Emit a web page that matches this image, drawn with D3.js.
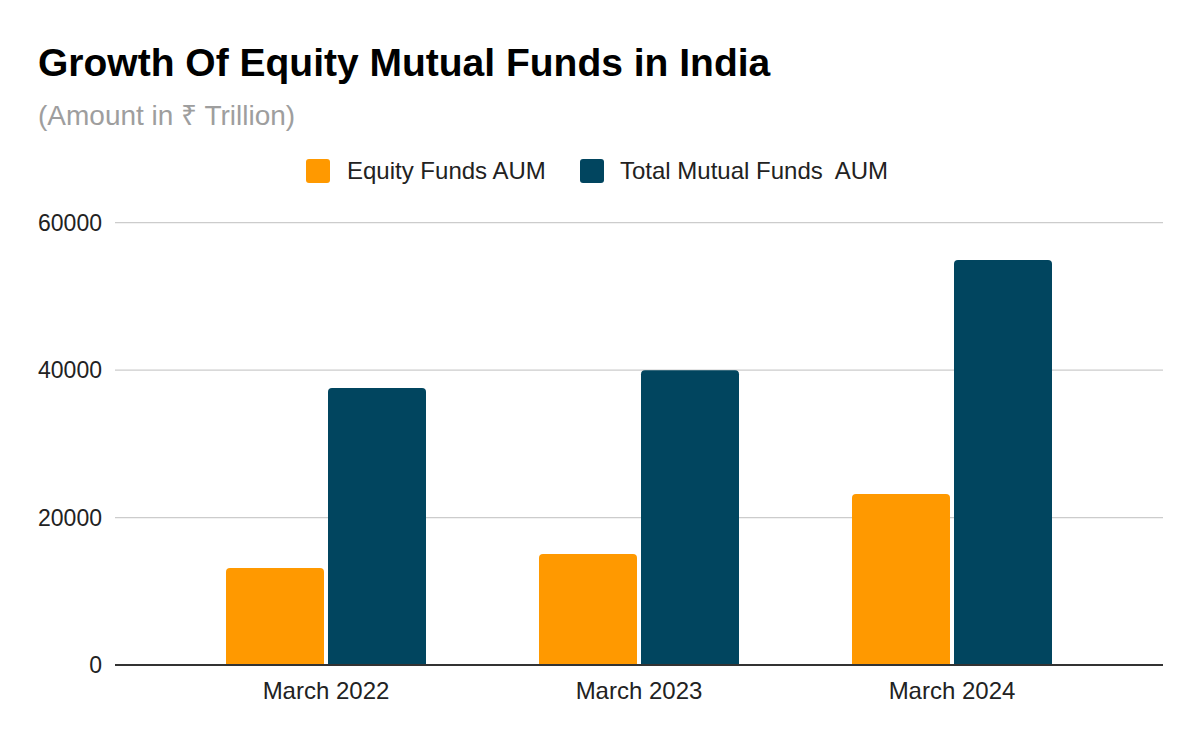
<!DOCTYPE html>
<html>
<head>
<meta charset="utf-8">
<script src="https://cdn.jsdelivr.net/npm/d3@7"></script>
<style>
  html, body { margin: 0; padding: 0; background: #fff; }
  svg text { font-family: "Liberation Sans", Arial, sans-serif; }
</style>
</head>
<body>
<svg id="chart" width="1200" height="742"></svg>
<script>
const categories = ["March 2022", "March 2023", "March 2024"];
const seriesNames = ["Equity Funds AUM", "Total Mutual Funds  AUM"];
const equityAUM = [13160, 15060, 23200];
const totalAUM = [37570, 40000, 54940];
const yTicks = [0, 20000, 40000, 60000];
const colors = ["#ff9900", "#01455f"];

const title = "Growth Of Equity Mutual Funds in India";
const subtitle = "(Amount in \u20B9 Trillion)";

const svg = d3.select("#chart");
const W = 1200, H = 742;
svg.append("rect").attr("width", W).attr("height", H).attr("fill", "#fff");

const plotLeft = 115, plotRight = 1163;
const y = d3.scaleLinear().domain([0, 60000]).range([665, 222.7]);

const x0 = d3.scaleBand().domain(categories).range([169.5, 1108.5])
  .paddingInner(0.361).paddingOuter(0.1805);
const x1 = d3.scaleBand().domain(seriesNames).range([0, x0.bandwidth()])
  .paddingInner(4 / 102).paddingOuter(0);

// title
svg.append("text").attr("x", 38).attr("y", 76)
  .attr("font-size", 39).attr("font-weight", "bold").attr("fill", "#000")
  .text(title);
svg.append("text").attr("x", 38).attr("y", 125)
  .attr("font-size", 28).attr("fill", "#9e9e9e")
  .text(subtitle);

// gridlines
svg.append("g").selectAll("line").data(yTicks.filter(d => d !== 0)).join("line")
  .attr("x1", plotLeft).attr("x2", plotRight)
  .attr("y1", d => y(d)).attr("y2", d => y(d))
  .attr("stroke", "#cccccc").attr("stroke-width", 1.3);

// y labels
svg.append("g").selectAll("text").data(yTicks).join("text")
  .attr("x", 102).attr("y", d => y(d)).attr("dy", "0.35em")
  .attr("text-anchor", "end").attr("font-size", 23).attr("fill", "#222")
  .text(d => d);

// bars
const rows = categories.map((c, i) => ({ cat: c, vals: [equityAUM[i], totalAUM[i]] }));
function topRounded(x, yTop, w, h, r) {
  r = Math.min(r, h, w / 2);
  return `M${x},${yTop + h}V${yTop + r}Q${x},${yTop} ${x + r},${yTop}H${x + w - r}Q${x + w},${yTop} ${x + w},${yTop + r}V${yTop + h}Z`;
}
const g = svg.append("g");
rows.forEach(row => {
  row.vals.forEach((v, j) => {
    const bx = x0(row.cat) + x1(seriesNames[j]);
    const by = y(v);
    g.append("path")
      .attr("d", topRounded(bx, by, x1.bandwidth(), y(0) - by, 4))
      .attr("fill", colors[j]);
  });
});

// baseline
svg.append("line").attr("x1", plotLeft).attr("x2", plotRight)
  .attr("y1", y(0)).attr("y2", y(0))
  .attr("stroke", "#333333").attr("stroke-width", 2);

// x labels
svg.append("g").selectAll("text").data(categories).join("text")
  .attr("x", d => x0(d) + x0.bandwidth() / 2).attr("y", 699)
  .attr("text-anchor", "middle").attr("font-size", 24).attr("fill", "#222")
  .text(d => d);

// legend
const legendItems = [
  { name: seriesNames[0], color: colors[0], sx: 306, tx: 347 },
  { name: seriesNames[1], color: colors[1], sx: 580, tx: 620 }
];
const lg = svg.append("g");
legendItems.forEach(it => {
  lg.append("rect").attr("x", it.sx).attr("y", 159).attr("width", 24).attr("height", 24)
    .attr("rx", 3).attr("fill", it.color);
  lg.append("text").attr("x", it.tx).attr("y", 171).attr("dy", "0.35em")
    .attr("font-size", 24).attr("fill", "#222").style("white-space", "pre")
    .attr("xml:space", "preserve")
    .text(it.name);
});
</script>
</body>
</html>
